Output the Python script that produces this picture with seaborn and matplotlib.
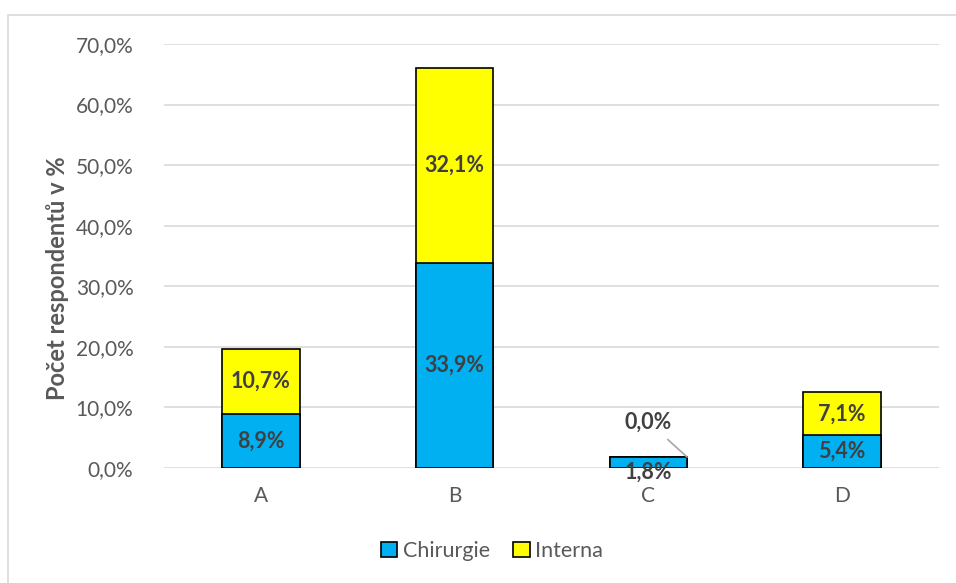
import matplotlib
matplotlib.use("Agg")
import matplotlib.pyplot as plt
from matplotlib.patches import Rectangle, Patch
import seaborn as sns
import pandas as pd

categories = ["A", "B", "C", "D"]
chirurgie = [8.9, 33.9, 1.8, 5.4]
interna = [10.7, 32.1, 0.0, 7.1]
y_ticks = [0, 10, 20, 30, 40, 50, 60, 70]

blue = "#00B0F0"
yellow = "#FFFF00"
grid_c = "#D9D9D9"
text_c = "#595959"
label_c = "#404040"

sns.set_theme(style="white")
plt.rcParams["font.family"] = ["Lato", "DejaVu Sans"]

df = pd.DataFrame({"cat": categories, "Chirurgie": chirurgie, "Interna": interna})
df["total"] = df["Chirurgie"] + df["Interna"]

fig = plt.figure(figsize=(9.56, 5.83), dpi=100)
ax = fig.add_axes([164 / 956, 1 - 468 / 583, (939 - 164) / 956, (468 - 44) / 583])

# chart-area frame
fig.patches.append(Rectangle((8 / 956, -0.05), 1.2, 1 - 15 / 583 + 0.05,
                             transform=fig.transFigure, fill=False,
                             edgecolor=grid_c, linewidth=1.2))

# stacked bars: full stack in yellow, Chirurgie drawn over it
sns.barplot(data=df, x="cat", y="total", color=yellow, saturation=1,
            width=0.40, edgecolor="black", linewidth=1.2, ax=ax, zorder=3)
sns.barplot(data=df, x="cat", y="Chirurgie", color=blue, saturation=1,
            width=0.40, edgecolor="black", linewidth=1.2, ax=ax, zorder=4)

ax.set_ylim(0, 70)
ax.set_xlim(-0.5, 3.5)
ax.set_yticks(y_ticks)
ax.set_yticklabels([f"{v:.1f}%".replace(".", ",") for v in y_ticks])
ax.yaxis.grid(True, color=grid_c, linewidth=1.2)
ax.set_axisbelow(True)
for s in ax.spines.values():
    s.set_visible(False)
ax.tick_params(axis="both", length=0, labelsize=15, colors=text_c)
ax.tick_params(axis="y", pad=22)
ax.tick_params(axis="x", pad=13)
ax.set_xlabel("")
ax.set_ylabel("Počet respondentů v %", fontsize=17, fontweight="bold", color=text_c)
ax.yaxis.set_label_coords(-0.122, 0.448)

def fmt(v):
    return f"{v:.1f}%".replace(".", ",")

lab_kw = dict(ha="center", va="center", fontsize=15.5, fontweight="bold",
              color=label_c, zorder=6)
for i, (c, n) in enumerate(zip(chirurgie, interna)):
    if c < 3:
        ax.annotate(fmt(c), (i, c / 2), xytext=(0, -7),
                    textcoords="offset points", **lab_kw)
    else:
        ax.text(i, c / 2, fmt(c), **lab_kw)
    if n < 1:
        ax.annotate(fmt(n), xy=(i + 0.2, c + n), xytext=(i, c + n + 5.8),
                    arrowprops=dict(arrowstyle="-", color="#A6A6A6",
                                    linewidth=1.2, shrinkA=4, shrinkB=0),
                    **lab_kw)
    else:
        ax.text(i, c + n / 2, fmt(n), **lab_kw)

handles = [Patch(facecolor=blue, edgecolor="black", linewidth=1.2, label="Chirurgie"),
           Patch(facecolor=yellow, edgecolor="black", linewidth=1.2, label="Interna")]
leg = fig.legend(handles=handles, loc="center", bbox_to_anchor=(492 / 956, 1 - 551 / 583),
                 ncol=2, frameon=False, fontsize=15.5, handlelength=0.75,
                 handleheight=0.75, handletextpad=0.25, columnspacing=1.1)
for t in leg.get_texts():
    t.set_color(text_c)

fig.savefig("out.png", dpi=100)
